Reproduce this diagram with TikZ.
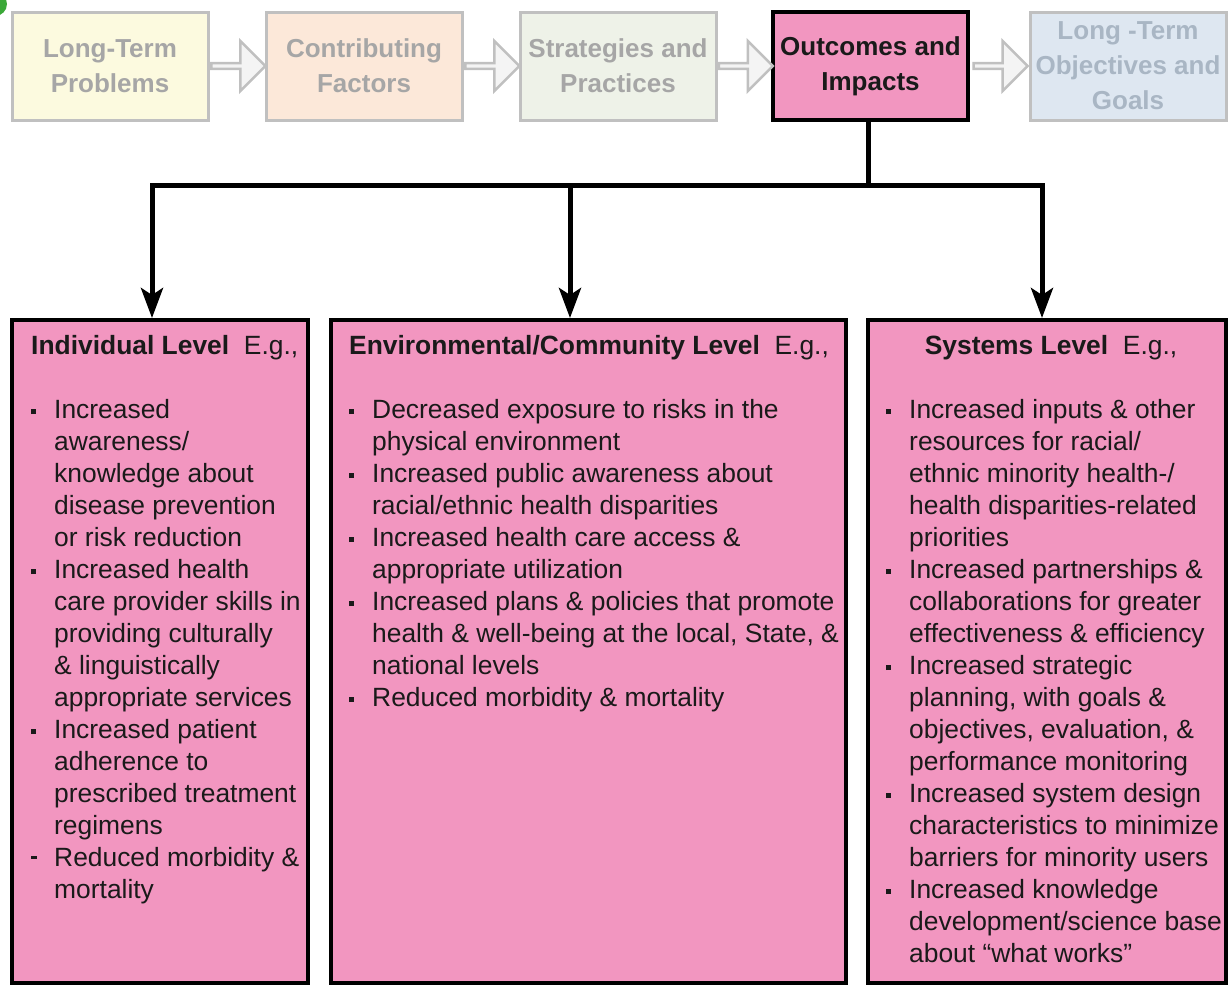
\documentclass[tikz,border=0pt]{standalone}
\usepackage{fontspec}
\setmainfont{Liberation Sans}
\usetikzlibrary{arrows.meta,shapes.arrows,calc}
\definecolor{pinkfill}{HTML}{F296C0}
\definecolor{yel}{HTML}{FCFADF}
\definecolor{pea}{HTML}{FCE8D9}
\definecolor{grn}{HTML}{EEF2E8}
\definecolor{blu}{HTML}{DEE7F1}
\definecolor{fadeborder}{HTML}{C0C0C0}
\definecolor{fadetext}{HTML}{A6A6A6}
\definecolor{bluetext}{HTML}{A9B6C4}
\definecolor{arrowfill}{HTML}{F4F4F4}
\definecolor{greenblob}{HTML}{3BA838}
\definecolor{inktext}{HTML}{1A1A1A}
\newcommand{\itm}{\makebox[23pt][l]{\rule[4pt]{5pt}{5pt}}}
\newcommand{\dsh}{\makebox[23pt][l]{\rule[7.5pt]{6pt}{2.5pt}}}
\newcommand{\cnt}{\hspace*{23pt}}
\begin{document}
\begin{tikzpicture}[x=1pt,y=-1pt,
  topbox/.style={draw=fadeborder, line width=3pt, minimum width=196pt, minimum height=108pt, inner sep=0pt,
    font=\fontsize{26}{35}\selectfont\bfseries, align=center},
  hollow/.style={single arrow, draw=fadeborder, fill=arrowfill, line width=2.5pt, minimum height=54pt,
    minimum width=50pt, single arrow head extend=10pt, single arrow head indent=0pt, inner sep=0pt},
  pbox/.style={draw=black, line width=4pt, fill=pinkfill, inner sep=0pt},
  body/.style={font=\fontsize{26.4}{32}\selectfont, align=left, inner sep=0pt, anchor=north west, text=inktext},
  conn/.style={line width=5pt},
  arr/.style={conn, -{Stealth[length=30pt,width=22pt,inset=7pt]}}
]
\useasboundingbox (0,0) rectangle (1228,986);
\fill[white] (0,0) rectangle (1228,986);
\begin{scope}
\clip (0,0) rectangle (1228,986);
\fill[greenblob] (-5,4) circle (12);
\end{scope}

% top row
\node[topbox, fill=yel, text=fadetext] (b1) at (110,66) {Long-Term\\Problems};
\node[topbox, fill=pea, text=fadetext] (b2) at (364,66) {Contributing\\Factors};
\node[topbox, fill=grn, text=fadetext] (b3) at (618,66) {Strategies and\\Practices};
\node[topbox, draw=black, line width=3.5pt, fill=pinkfill, text=inktext, minimum width=195pt] (b4) at (870.5,66) {Outcomes and\\Impacts};
\node[topbox, fill=blu, text=bluetext] (b5) at (1128,66) {Long -Term\\Objectives and\\Goals};

\node[hollow] (a1) at ($(b1.east)!0.5!(b2.west)$) {};
\node[hollow] (a2) at ($(b2.east)!0.5!(b3.west)$) {};
\node[hollow] (a3) at ($(b3.east)!0.5!(b4.west)$) {};
\node[hollow] (a4) at ($(b4.east)!0.5!(b5.west)$) {};

% bottom boxes
\node[pbox, minimum width=296pt, minimum height=663pt] (ind) at (160,651.5) {};
\node[pbox, minimum width=515pt, minimum height=663pt] (env) at (588.5,651.5) {};
\node[pbox, minimum width=358pt, minimum height=663pt] (sys) at (1047,651.5) {};

% connectors
\coordinate (split) at (868,185);
\draw[conn] ([xshift=-2.5pt]b4.south) -- (split);
\draw[arr] (split) -| ([xshift=-8pt]ind.north);
\draw[arr] (split) -| ([xshift=-18.5pt]env.north);
\draw[arr] (split) -| ([xshift=-5pt]sys.north);

% texts
\node[body] (indtxt) at (31,331.6) {\strut\textbf{Individual Level}\ \ E.g.,\\
\strut\\
\itm Increased\\
\cnt awareness/\\
\cnt knowledge about\\
\cnt disease prevention\\
\cnt or risk reduction\\
\itm Increased health\\
\cnt care provider skills in\\
\cnt providing culturally\\
\cnt \& linguistically\\
\cnt appropriate services\\
\itm Increased patient\\
\cnt adherence to\\
\cnt prescribed treatment\\
\cnt regimens\\
\dsh Reduced morbidity \&\\
\cnt mortality};

\node[body] (envtxt) at (349,331.6) {\strut\textbf{Environmental/Community Level}\ \ E.g.,\\
\strut\\
\itm Decreased exposure to risks in the\\
\cnt physical environment\\
\itm Increased public awareness about\\
\cnt racial/ethnic health disparities\\
\itm Increased health care access \&\\
\cnt appropriate utilization\\
\itm Increased plans \& policies that promote\\
\cnt health \& well-being at the local, State, \&\\
\cnt national levels\\
\itm Reduced morbidity \& mortality};

\node[body, anchor=base] (syshead) at (1051,354) {\textbf{Systems Level}\ \ E.g.,};
\node[body] (systxt) at (886,395.6) {\strut\itm Increased inputs \& other\\
\cnt resources for racial/\\
\cnt ethnic minority health-/\\
\cnt health disparities-related\\
\cnt priorities\\
\itm Increased partnerships \&\\
\cnt collaborations for greater\\
\cnt effectiveness \& efficiency\\
\itm Increased strategic\\
\cnt planning, with goals \&\\
\cnt objectives, evaluation, \&\\
\cnt performance monitoring\\
\itm Increased system design\\
\cnt characteristics to minimize\\
\cnt barriers for minority users\\
\itm Increased knowledge\\
\cnt development/science base\\
\cnt about “what works”};
\end{tikzpicture}
\end{document}
